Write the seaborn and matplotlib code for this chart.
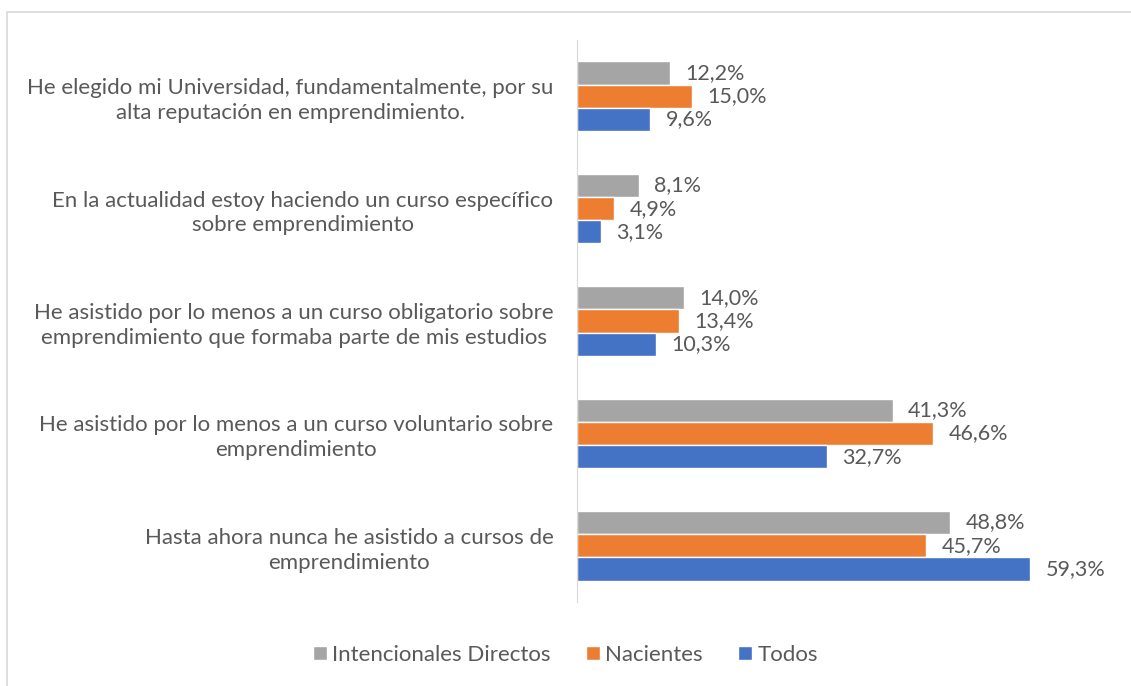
import matplotlib
matplotlib.use("Agg")
import matplotlib.pyplot as plt
import seaborn as sns
import pandas as pd
from matplotlib.lines import Line2D

# data
categories = [
    "He elegido mi Universidad, fundamentalmente, por su\nalta reputación en emprendimiento.",
    "En la actualidad estoy haciendo un curso específico\nsobre emprendimiento",
    "He asistido por lo menos a un curso obligatorio sobre\nemprendimiento que formaba parte de mis estudios",
    "He asistido por lo menos a un curso voluntario sobre\nemprendimiento",
    "Hasta ahora nunca he asistido a cursos de\nemprendimiento",
]
series = ["Intencionales Directos", "Nacientes", "Todos"]
intencionales = [12.2, 8.1, 14.0, 41.3, 48.8]
nacientes = [15.0, 4.9, 13.4, 46.6, 45.7]
todos = [9.6, 3.1, 10.3, 32.7, 59.3]
colors = ["#A5A5A5", "#ED7D31", "#4472C4"]

rows = []
for name, vals in zip(series, [intencionales, nacientes, todos]):
    for cat, v in zip(categories, vals):
        rows.append({"cat": cat, "serie": name, "valor": v})
df = pd.DataFrame(rows)

sns.set_style("white")
plt.rcParams["font.family"] = ["Lato", "DejaVu Sans"]
text_col = "#595959"

fig = plt.figure(figsize=(11.31, 6.86), dpi=100)
ax = fig.add_axes([577 / 1131, 1 - 602 / 686, 523 / 1131, 562 / 686])

sns.barplot(data=df, y="cat", x="valor", hue="serie", order=categories,
            hue_order=series, palette=colors, orient="h", width=0.62,
            saturation=1, ax=ax, legend=True)

for cont in ax.containers:
    labels = [f"{v:.1f}%".replace(".", ",") for v in cont.datavalues]
    ax.bar_label(cont, labels=labels, padding=11, fontsize=15.5, color=text_col)

ax.set_xlim(0, 68.4)
ax.set_xticks([])
ax.set_xlabel("")
ax.set_ylabel("")
for s in ["top", "right", "bottom"]:
    ax.spines[s].set_visible(False)
ax.spines["left"].set_color("#D9D9D9")
ax.tick_params(axis="y", length=0, pad=17, labelsize=16, labelcolor=text_col)
for t in ax.get_yticklabels():
    t.set_multialignment("center")
    t.set_linespacing(1.3)

leg = ax.legend(loc="center", bbox_to_anchor=(0.5, 1 - 655 / 686),
                bbox_transform=fig.transFigure, ncol=3, frameon=False,
                fontsize=16, handlelength=0.6, handleheight=0.6,
                handletextpad=0.25, columnspacing=1.6)
for t in leg.get_texts():
    t.set_color(text_col)

# chart area border (only top and left visible in the reference crop)
fig.add_artist(Line2D([7 / 1131, 7 / 1131, 1.0], [0.0, 1 - 12 / 686, 1 - 12 / 686],
                      transform=fig.transFigure, color="#D9D9D9", linewidth=1.2))

fig.savefig("out.png", dpi=100)
